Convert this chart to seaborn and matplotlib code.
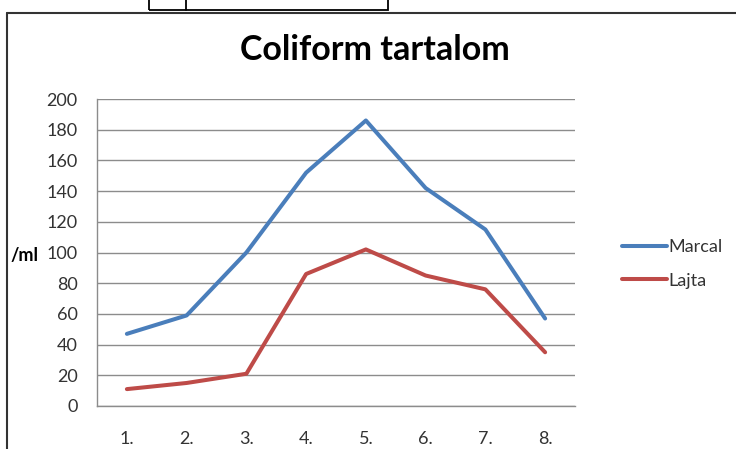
import seaborn as sb
import pandas as pd
import matplotlib.pyplot as plt
from matplotlib.patches import Rectangle
from matplotlib.lines import Line2D

#Data
samples = ["1.", "2.", "3.", "4.", "5.", "6.", "7.", "8."]
marcal = [47, 59, 100, 152, 186, 142, 115, 57]
lajta = [11, 15, 21, 86, 102, 85, 76, 35]
series = ["Marcal", "Lajta"]
colors = ["#4a7ebb", "#be4b48"]

df = pd.DataFrame({
    "minta": samples * 2,
    "ertek": marcal + lajta,
    "folyo": [series[0]] * len(samples) + [series[1]] * len(samples),
})

sb.set_style("white")
plt.rcParams['font.family'] = ['Lato', 'DejaVu Sans']

fig = plt.figure(figsize=(7.36, 4.49), dpi=100)
ax = fig.add_axes([97/736, 1-406/449, 478/736, 307/449])

sb.lineplot(data=df, x="minta", y="ertek", hue="folyo", palette=colors,
            linewidth=2.9, sort=False, ax=ax, legend=False)

ax.set_xlim(-0.5, len(samples) - 0.5)
ax.set_ylim(0, 200)
ax.set_yticks(range(0, 201, 20))
ax.yaxis.grid(True, color="#8c8c8c", linewidth=1.0)
ax.set_axisbelow(True)
for s in ["top", "right"]:
    ax.spines[s].set_visible(False)
for s in ["left", "bottom"]:
    ax.spines[s].set_color("#8c8c8c")
    ax.spines[s].set_linewidth(1.0)

#ticks at category centers and boundaries
ax.set_xticks([i - 0.5 for i in range(len(samples) + 1)], minor=True)
ax.tick_params(axis="x", which="both", direction="out", length=5, color="#8c8c8c", width=1)
ax.tick_params(axis="x", which="major", pad=13, labelsize=13, labelcolor="#333333")
ax.tick_params(axis="y", length=0, pad=14, labelsize=13, labelcolor="#333333")
ax.set_xlabel("")
ax.set_ylabel("")

fig.text(375/736, 1-50/449, "Coliform tartalom", ha="center", va="center",
         fontsize=24.5, fontweight="bold", color="black")
fig.text(10/736, 1-255/449, "/ml", ha="left", va="center",
         fontsize=13, fontweight="bold", color="black")

handles = [Line2D([], [], color=c, linewidth=2.9) for c in colors]
fig.legend(handles, series, loc="center left", bbox_to_anchor=(622/736, 1-264/449),
           frameon=False, borderpad=0, borderaxespad=0, handlelength=2.5,
           handletextpad=0.05, labelspacing=0.95, fontsize=13, labelcolor="#333333")

#frame lines round the chart
fig.add_artist(Line2D([7/736, 7/736], [0, 1-13/449], color="#333333", linewidth=1.5, transform=fig.transFigure))
fig.add_artist(Line2D([7/736, 1], [1-13/449, 1-13/449], color="#333333", linewidth=1.5, transform=fig.transFigure))
fig.add_artist(Rectangle((149/736, 1-10/449), (388-149)/736, 12/449, fill=False,
                         edgecolor="black", linewidth=1.3, transform=fig.transFigure))
fig.add_artist(Line2D([186/736, 186/736], [1-10/449, 1], color="black", linewidth=1.3, transform=fig.transFigure))

fig.savefig("out.png", dpi=100)
